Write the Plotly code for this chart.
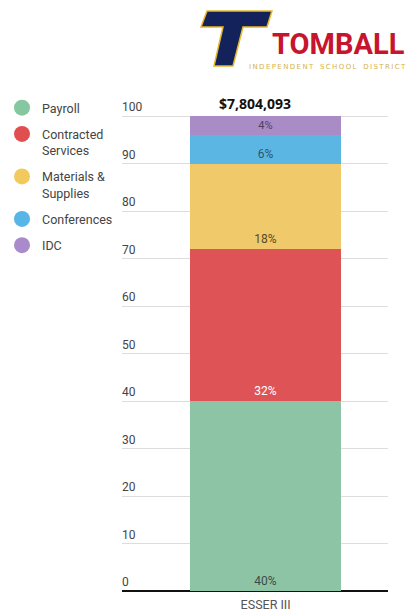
import plotly.graph_objects as go

# ---- data ----
categories = ["ESSER III"]
series_names = ["Payroll", "Contracted<br>Services", "Materials &<br>Supplies", "Conferences", "IDC"]
series_values = [40, 32, 18, 6, 4]
series_labels = ["40%", "32%", "18%", "6%", "4%"]
total_label = "$7,804,093"
y_tick_vals = [0, 10, 20, 30, 40, 50, 60, 70, 80, 90, 100]
y_tick_text = ["0", "10", "20", "30", "40", "50", "60", "70", "80", "90", "100"]

# ---- styles ----
bar_colors = ["#8DC4A6", "#DE5456", "#EFC96A", "#5CB6E3", "#A98CC6"]
legend_colors = ["#84C7A0", "#E04E50", "#F2C95C", "#57B5E8", "#A98BCB"]
text_colors = ["#3d4a44", "#FFFFFF", "#5a4a25", "#2b5670", "#4f4060"]

W, H = 409, 612


def px(x):
    return x / W


def py(y):
    return 1 - y / H


fig = go.Figure()

for name, val, lab, col, tcol in zip(series_names, series_values, series_labels, bar_colors, text_colors):
    fig.add_trace(go.Bar(
        x=categories, y=[val], text=[lab], name=name,
        marker=dict(color=col, line=dict(width=0)),
        textposition="inside", insidetextanchor="start", textangle=0,
        insidetextfont=dict(family="Roboto", size=12, color=tcol),
        width=0.568, showlegend=False, hoverinfo="skip",
    ))

# legend entries as circles
for i, (name, col) in enumerate(zip(series_names, legend_colors)):
    fig.add_trace(go.Scatter(
        x=[None], y=[None], mode="markers", name=name,
        marker=dict(symbol="circle", size=16, color=col),
        legendgroup=f"g{i}", showlegend=True,
    ))

# total label above the stack
fig.add_annotation(
    x=0.5, y=sum(series_values), xref="x domain", yref="y",
    text=f"<b>{total_label}</b>", showarrow=False, yanchor="bottom", yshift=1,
    font=dict(family="Open Sans", size=14, color="#111111"),
)

# ---- logo (decoration) ----
T_pts = [(207, 11), (272, 11), (267, 27), (243, 27), (233, 66), (214, 66), (223, 27), (201, 27)]
path = "M " + " L ".join(f"{px(x):.4f},{py(y):.4f}" for x, y in T_pts) + " Z"
fig.add_shape(type="path", path=path, xref="paper", yref="paper",
              fillcolor="#14225C", line=dict(color="#E6B829", width=1.5), layer="above")
fig.add_annotation(x=px(338), y=py(44), xref="paper", yref="paper", text="<b>TOMBALL</b>",
                   showarrow=False, font=dict(family="Roboto", size=29, color="#C8152F"),
                   xanchor="center", yanchor="middle")
ts = "\u2009"
sub_text = "   ".join(ts.join(list(w)) for w in ["INDEPENDENT", "SCHOOL", "DISTRICT"])
fig.add_annotation(x=px(327), y=py(67), xref="paper", yref="paper",
                   text=sub_text,
                   showarrow=False, font=dict(family="DejaVu Sans", size=7, color="#D4B24C"),
                   xanchor="center", yanchor="middle")

fig.update_layout(
    width=W, height=H,
    margin=dict(l=0, r=0, t=0, b=0),
    barmode="stack", bargap=0,
    plot_bgcolor="white", paper_bgcolor="white",
    font=dict(family="Roboto", size=12, color="#444444"),
    showlegend=True,
    legend=dict(x=px(2), y=py(93), xanchor="left", yanchor="top",
                traceorder="grouped", tracegroupgap=7, valign="top",
                font=dict(family="Roboto", size=12.5, color="#444444"),
                bgcolor="rgba(0,0,0,0)"),
    xaxis=dict(domain=[px(122), px(388)], range=[-0.54, 0.46], type="category",
               showline=False, ticks="", ticklabelstandoff=2,
               tickfont=dict(family="Roboto", size=12.5, color="#555555"),
               showgrid=False),
    yaxis=dict(domain=[py(593.85), py(97)], range=[-0.6, 104],
               tickvals=y_tick_vals, ticktext=y_tick_text,
               ticklabelposition="inside", ticklabelshift=-9, ticklabelstandoff=-3,
               tickfont=dict(family="Roboto", size=12, color="#444444"),
               showgrid=True, gridcolor="#DDDDDD", gridwidth=1,
               zeroline=True, zerolinecolor="#111111", zerolinewidth=2,
               showline=False, ticks=""),
)

fig.write_html("out.html", config={"displayModeBar": False},
               post_script="document.body.style.margin='0';document.body.style.overflow='hidden';")
